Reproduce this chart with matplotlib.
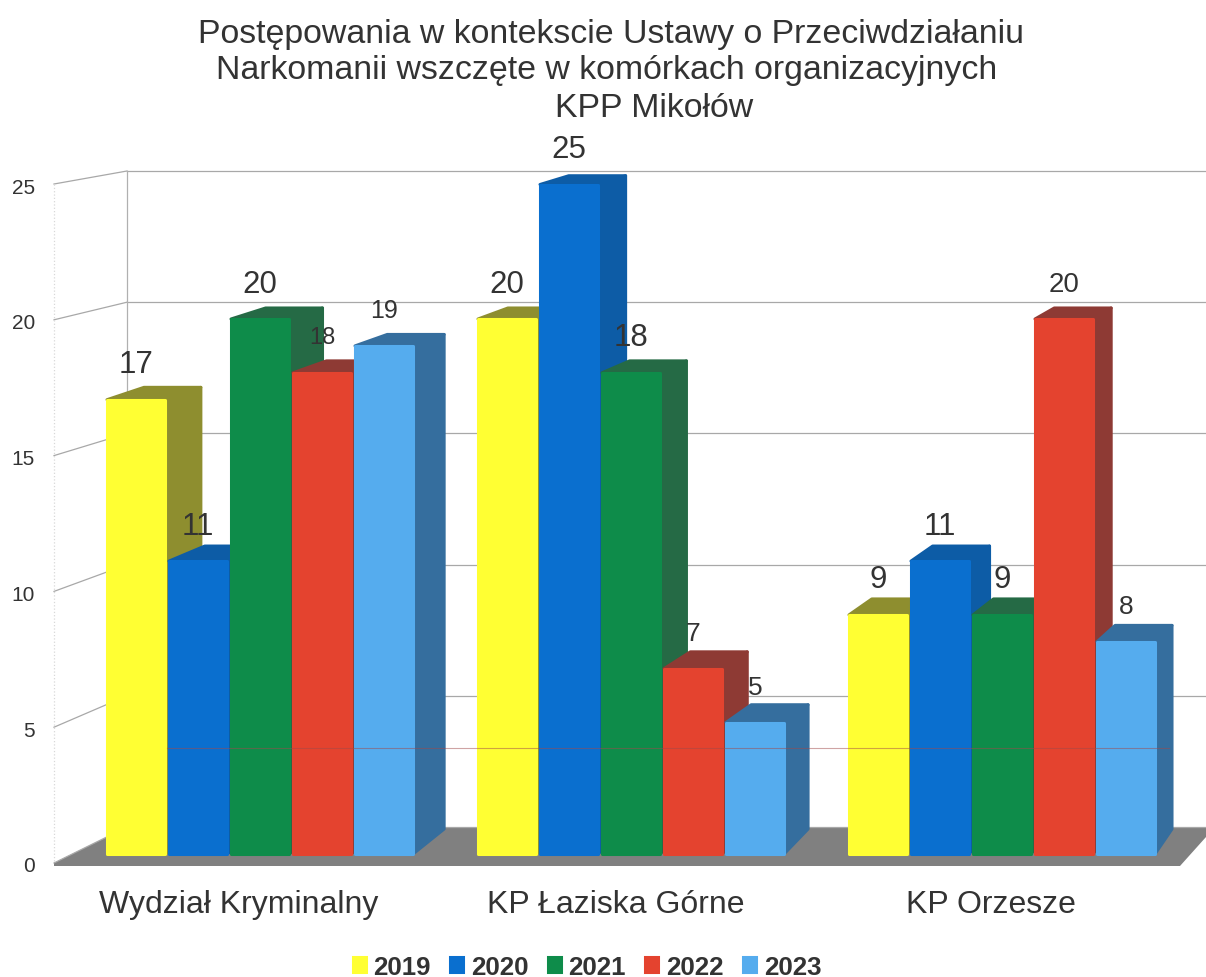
import matplotlib
matplotlib.use("Agg")
import matplotlib.pyplot as plt
from matplotlib.patches import Polygon

plt.rcParams['font.family'] = ['Liberation Sans', 'DejaVu Sans']

categories = ["Wydział Kryminalny", "KP Łaziska Górne", "KP Orzesze"]
years = ["2019", "2020", "2021", "2022", "2023"]
v2019 = [17, 20, 9]
v2020 = [11, 25, 11]
v2021 = [20, 18, 9]
v2022 = [18, 7, 20]
v2023 = [19, 5, 8]
series = [v2019, v2020, v2021, v2022, v2023]
yticks = [0, 5, 10, 15, 20, 25]

face = ['#FFFF33', '#0A6FCF', '#0E8C4A', '#E4432F', '#55ACEE']
side = ['#8E8E2F', '#0D5CA6', '#256A45', '#8E3A34', '#356E9E']
ink = '#333333'

label_fs = [[22.5, 22.5, 22.5], [22.5, 22.5, 22.5], [22.5, 22.5, 22.5],
            [17, 19, 20], [18, 19, 19]]

W, H = 1206, 978
fig = plt.figure(figsize=(W / 100, H / 100), dpi=100, facecolor='white')

# Background panel in pixel units: 3-D box walls, floor and gridlines
bg = fig.add_axes([0, 0, 1, 1], zorder=0)
bg.set_xlim(0, W)
bg.set_ylim(H, 0)
bg.axis('off')
fx, bx = 54, 127
for t in yticks:
    yf = 864 - t * 27.16
    yb = 828 - t * 26.24
    bg.plot([fx, bx], [yf, yb], color='#a8a8a8', lw=0.9)
    bg.plot([bx, W], [yb, yb], color='#a8a8a8', lw=0.9)
    bg.text(35, yf + 3, str(t), ha='right', va='center', fontsize=15, color=ink)
bg.plot([bx, bx], [172, 828], color='#b0b0b0', lw=0.9)
bg.plot([fx, fx], [185, 864], color='#d8d8d8', lw=0.9, ls=':')
bg.add_patch(Polygon([(fx, 864), (bx, 828), (W, 828), (W, 838), (1180, 867), (fx, 867)],
                     closed=True, fc='#808080', ec='none'))

# Bars in data units
left, right = 74.5, 1187.5
bottom, topp = 858, 185.5
xunit = (right - left) / 3
yunit = (bottom - topp) / 25
ax = fig.add_axes([left / W, 1 - bottom / H, (right - left) / W, (bottom - topp) / H], zorder=1)
ax.patch.set_alpha(0)
ax.set_xlim(-0.5, 2.5)
ax.set_ylim(0, 25)
ax.axis('off')

pitch = 62 / xunit
bw = 58 / xunit
base = 3 / yunit          # bars stand slightly above the axis zero on the floor


def depth_x(x):
    """Perspective: depth shrinks left to right (returned in x data units)."""
    px = left + (x + 0.5) * xunit
    return (37 - 20 * (px - 105) / 1050) / xunit


def depth_y(v):
    return (20 - 0.45 * v) / yunit


handles = []
for i, vals in enumerate(series):
    for g, v in enumerate(vals):
        c = g + (i - 2) * pitch
        x0, x1 = c - bw / 2, c + bw / 2
        d0, d1 = depth_x(x0), depth_x(x1)
        dy = depth_y(v)
        ax.add_patch(Polygon([(x1, base), (x1 + d1, base + 25 / yunit), (x1 + d1, v + dy), (x1, v)],
                             closed=True, fc=side[i], ec=side[i], lw=2.2, joinstyle='round',
                             zorder=2 + i, clip_on=False))
        ax.add_patch(Polygon([(x0, v), (x0 + d0, v + dy), (x1 + d1, v + dy), (x1, v)],
                             closed=True, fc=side[i], ec=side[i], lw=2.2, joinstyle='round',
                             zorder=2 + i, clip_on=False))
    b = ax.bar([g + (i - 2) * pitch for g in range(3)], [v - base for v in vals], bottom=base,
               width=bw, color=face[i], edgecolor=face[i], lw=2.2, joinstyle='round',
               zorder=2.5 + i, clip_on=False, label=years[i])
    handles.append(b)
    for g, v in enumerate(vals):
        ax.annotate(str(v), (g + (i - 2) * pitch, v), xytext=(0, 25.5), textcoords='offset points',
                    ha='center', va='center', fontsize=label_fs[i][g], color=ink, zorder=20)

# faint scanner line crossing the bars
ax.plot([-0.25, 2.45], [4.07, 4.07], color='#a04a4a', lw=0.8, alpha=0.5, zorder=15)

# category labels
shift = [-15, -11, -8]
for g, c in enumerate(categories):
    ax.annotate(c, (g, 0), xytext=(shift[g], -34), textcoords='offset points',
                ha='center', va='center', fontsize=23, color=ink)

fig.text(611 / W, 1 - 34 / H, "Postępowania w kontekscie Ustawy o Przeciwdziałaniu",
         ha='center', va='center', fontsize=24.4, color=ink)
fig.text(607 / W, 1 - 70 / H, "Narkomanii wszczęte w komórkach organizacyjnych",
         ha='center', va='center', fontsize=24.4, color=ink)
fig.text(654 / W, 1 - 109 / H, "KPP Mikołów", ha='center', va='center', fontsize=24.4, color=ink)

fig.legend(handles=handles, labels=years, loc='center', bbox_to_anchor=(587 / W, 1 - 968 / H),
           ncols=5, frameon=False, handlelength=0.5, handleheight=0.5, handletextpad=0.3,
           columnspacing=0.75, borderpad=0, prop={'weight': 'bold', 'size': 18.6}, labelcolor=ink)

fig.savefig('out.png', dpi=100)
